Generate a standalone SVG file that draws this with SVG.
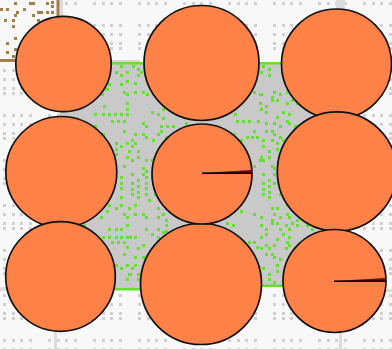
<svg xmlns="http://www.w3.org/2000/svg" width="392" height="349" viewBox="0 0 392 349">
<style>
.c{fill:#fe8148;stroke:#111;stroke-width:1.7}
.h{fill:#5e1208}
.l{stroke:#000;stroke-width:1.5;fill:none}
.gl{fill:#dcdcdc}
</style>
<defs>
<pattern id="dots" width="45" height="45" patternUnits="userSpaceOnUse">
<path fill="#d0d0d0" d="M3 2h3v3h-3zM12 2h3v3h-3zM20 2h3v3h-3zM29 2h3v3h-3zM3 24h3v3h-3zM12 24h3v3h-3zM20 24h3v3h-3zM29 24h3v3h-3zM3 33h3v3h-3zM12 33h3v3h-3zM20 33h3v3h-3zM29 33h3v3h-3zM3 42h3v3h-3zM12 42h3v3h-3zM20 42h3v3h-3zM29 42h3v3h-3z"/>
</pattern>
</defs>
<g id="background">
<rect width="392" height="349" fill="#f8f8f8"/>
<rect width="392" height="349" fill="url(#dots)"/>
<rect class="gl" x="336" y="0" width="9" height="12"/>
<rect class="gl" x="60" y="0" width="3" height="62"/>
<rect class="gl" x="54" y="330" width="3" height="19"/>
<rect class="gl" x="339" y="330" width="3" height="19"/>
<rect class="gl" x="0" y="287" width="10" height="4"/>
<rect class="gl" x="380" y="289" width="12" height="3"/>
</g>
<g id="brown-box">
<rect x="0" y="0" width="58" height="60" fill="#f8f8f8"/>
<path d="M58 0V60.500H0" fill="none" stroke="#a07f4a" stroke-width="3"/>
<path fill="none" stroke="#a07f4a" stroke-width="3" d="M14 3.500h3M29 3.500h6M46 3.500h3M51 2.500h3M51 6.500h3M0 9.500h3M6 9.500h3M23 9.500h3M51 12.500h3M37 12.500h6M46 12.500h3M16 12.500h3M14 15.500h3M32 15.500h3M12 20.500h3M4 20.500h3M37 20.500h3M12 26.500h3M14 38.500h3M6 43.500h3M14 49.500h3M6 52.500h3M12 56.500h3"/>
</g>
<g id="field">
<rect x="60" y="60" width="80" height="2.500" fill="#d4d4d4"/>
<rect x="60" y="62" width="280" height="228" fill="#c9c9c9"/>
<rect x="200" y="287" width="140" height="3" fill="#f8f8f8"/>
<path d="M60 63.300H340" stroke="#66e02e" stroke-width="2.600" fill="none"/>
<path d="M60 289.300H200" stroke="#66e02e" stroke-width="2.600" fill="none"/>
<path d="M200 285.800H340" stroke="#66e02e" stroke-width="2.600" fill="none"/>
<path fill="none" stroke="#66e02e" stroke-width="3" d="M120 66.500h3M115 72.500h3M126 72.500h3M120 75.500h3M108 84.500h3M120 84.500h3M126 81.500h3M106 89.500h3M123 92.500h3M126 94.500h3M101 94.500h3M126 103.500h3M103 106.500h3M126 109.500h3M94 114.500h3M102 114.500h3M108 114.500h3M114 114.500h3M120 114.500h3M126 114.500h3M132 66.500h3M137 69.500h3M140 72.500h3M137 75.500h3M134 83.500h3M134 92.500h3M142 92.500h3M146 94.500h3M151 112.500h3M157 114.500h3M162 109.500h3M253 92.500h3M259 94.500h3M259 103.500h3M234 114.500h3M262 66.500h3M268 69.500h3M268 75.500h3M260 72.500h3M273 92.500h3M279 94.500h3M286 92.500h3M271 97.500h3M271 100.500h3M276 100.500h3M291 100.500h3M260 94.500h3M265 106.500h3M286 103.500h3M260 109.500h3M265 112.500h3M282 112.500h3M288 114.500h3M296 103.500h3M111 121.500h3M117 121.500h3M123 121.500h3M123 131.500h3M94 126.500h3M102 134.500h3M115 143.500h3M126 143.500h3M115 149.500h3M120 146.500h3M128 151.500h3M115 154.500h3M126 157.500h3M123 166.500h3M120 177.500h3M120 183.500h3M120 188.500h3M120 197.500h3M128 208.500h3M108 205.500h3M115 208.500h3M120 205.500h3M106 211.500h3M123 214.500h3M126 217.500h3M100 217.500h3M126 225.500h3M108 229.500h3M115 229.500h3M120 229.500h3M83 225.500h3M142 123.500h3M145 126.500h3M162 118.500h3M160 126.500h3M166 126.500h3M172 126.500h3M160 131.500h3M157 134.500h3M134 134.500h3M142 134.500h3M145 137.500h3M152 140.500h3M165 137.500h3M131 140.500h3M134 143.500h3M131 146.500h3M137 151.500h3M137 157.500h3M131 160.500h3M145 160.500h3M151 160.500h3M142 168.500h3M145 171.500h3M131 174.500h3M142 174.500h3M145 177.500h3M137 180.500h3M131 183.500h3M145 183.500h3M137 186.500h3M145 188.500h3M131 189.500h3M137 192.500h3M131 194.500h3M137 197.500h3M145 194.500h3M154 194.500h3M148 200.500h3M134 205.500h3M157 208.500h3M134 214.500h3M142 214.500h3M145 217.500h3M157 217.500h3M162 214.500h3M165 220.500h3M165 225.500h3M157 229.500h3M165 231.500h3M145 229.500h3M236 121.500h3M242 121.500h3M248 121.500h3M257 121.500h3M253 131.500h3M246 137.500h3M251 137.500h3M256 137.500h3M233 134.500h3M240 140.500h3M259 160.500h3M253 166.500h3M240 211.500h3M253 214.500h3M226 223.500h3M232 225.500h3M185 123.500h3M276 117.500h3M286 121.500h3M265 123.500h3M273 123.500h3M288 123.500h3M279 126.500h3M265 131.500h3M271 131.500h3M273 134.500h3M279 137.500h3M282 140.500h3M262 140.500h3M271 140.500h3M276 143.500h3M262 146.500h3M276 149.500h3M268 151.500h3M260 157.500h3M268 157.500h3M262 160.500h3M271 166.500h3M273 168.500h3M262 174.500h3M273 174.500h3M268 180.500h3M262 183.500h3M273 183.500h3M268 186.500h3M262 189.500h3M268 192.500h3M262 194.500h3M268 197.500h3M279 194.500h3M286 205.500h3M271 208.500h3M276 208.500h3M273 214.500h3M286 214.500h3M279 217.500h3M288 217.500h3M260 217.500h3M271 220.500h3M271 223.500h3M276 223.500h3M291 223.500h3M296 220.500h3M296 225.500h3M285 225.500h3M260 225.500h3M265 229.500h3M279 229.500h3M288 229.500h3M306 225.500h3M311 229.500h3M294 126.500h3M102 237.500h3M108 237.500h3M115 237.500h3M120 237.500h3M126 237.500h3M111 242.500h3M117 242.500h3M123 242.500h3M126 247.500h3M123 254.500h3M115 265.500h3M126 265.500h3M120 268.500h3M128 274.500h3M126 279.500h3M129 237.500h3M134 237.500h3M151 234.500h3M162 232.500h3M157 237.500h3M142 245.500h3M137 248.500h3M134 257.500h3M142 257.500h3M134 265.500h3M131 268.500h3M137 274.500h3M129 274.500h3M137 279.500h3M248 242.500h3M253 242.500h3M256 247.500h3M265 234.500h3M282 234.500h3M288 237.500h3M260 237.500h3M276 239.500h3M286 242.500h3M265 245.500h3M273 245.500h3M268 248.500h3M260 248.500h3M288 245.500h3M285 248.500h3M265 254.500h3M271 254.500h3M273 257.500h3M279 259.500h3M276 265.500h3M262 268.500h3M276 271.500h3M268 274.500h3M268 279.500h3M273 282.500h3"/>
</g>
<g id="node-1"><circle class="c" cx="63.500" cy="64" r="47.700"/></g>
<g id="node-2"><circle class="c" cx="201.500" cy="63" r="57.500"/></g>
<g id="node-3"><circle class="c" cx="336.500" cy="64" r="55"/></g>
<g id="node-4"><circle class="c" cx="61.300" cy="172" r="55.500"/></g>
<g id="node-6"><circle class="c" cx="337" cy="171.500" r="59.700"/></g>
<g id="node-7"><circle class="c" cx="60.500" cy="276.500" r="54.800"/></g>
<g id="node-8"><circle class="c" cx="201" cy="284" r="60.500"/></g>
<g id="node-5">
<circle class="c" cx="202" cy="174" r="50"/>
<polygon class="h" points="202,173 252,170 252,174"/>
<path class="l" d="M202 173.200H252"/>
</g>
<g id="node-9">
<circle class="c" cx="334.500" cy="281" r="51.500"/>
<polygon class="h" points="334,281 386,278 386,282"/>
<path class="l" d="M334 281.200H386"/>
</g>
<g id="connectors"/>
</svg>
